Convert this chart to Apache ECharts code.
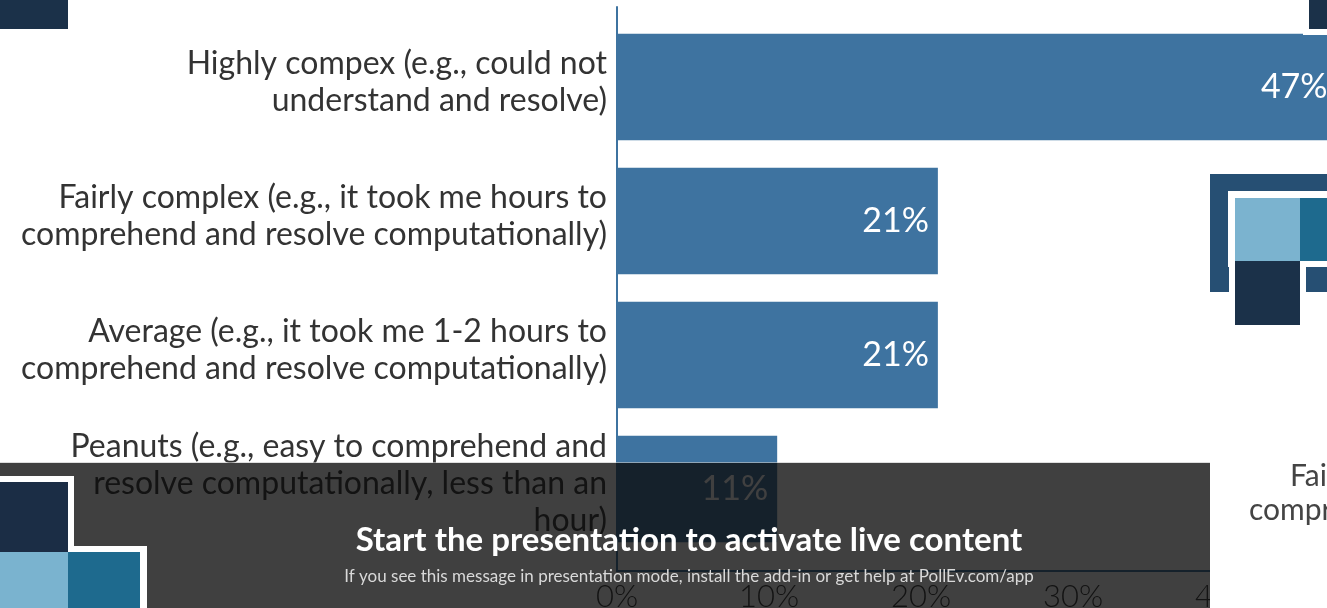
<!DOCTYPE html>
<html>
<head>
<meta charset="utf-8">
<script src="https://cdn.jsdelivr.net/npm/echarts@6/dist/echarts.min.js"></script>
<style>
  html, body { margin: 0; padding: 0; background: #fff; }
  #chart { width: 1327px; height: 608px; }
</style>
</head>
<body>
<div id="chart"></div>
<script>
// Poll results: how complex was the problem?
const categories = [
  'Highly compex (e.g., could not\nunderstand and resolve)',
  'Fairly complex (e.g., it took me hours to\ncomprehend and resolve computationally)',
  'Average (e.g., it took me 1-2 hours to\ncomprehend and resolve computationally)',
  'Peanuts (e.g., easy to comprehend and\nresolve computationally, less than an\nhour)'
];
// share of responses, percent
const shares = [47.4, 21.1, 21.1, 10.5];
const xTickValues = [0, 10, 20, 30, 40, 50];

const overlayTitle = 'Start the presentation to activate live content';
const overlayNote = 'If you see this message in presentation mode, install the add-in or get help at PollEv.com/app';

const BAR = '#3e73a0';
const FONT = 'Lato, "Noto Sans", sans-serif';

const chart = echarts.init(document.getElementById('chart'), null, { renderer: 'canvas' });

const xMin = xTickValues[0];
const xMax = xTickValues[xTickValues.length - 1];

const option = {
  backgroundColor: '#ffffff',
  animation: false,
  grid: [
    // bars
    { left: 618, right: -49, top: 20, height: 536, outerBoundsMode: 'none', containLabel: false },
    // axis frame
    { left: 617, right: -50, top: 7, height: 564, outerBoundsMode: 'none', containLabel: false },
    // category captions, set slightly higher than the bar centres
    { left: 618, right: -49, top: 15, height: 536, outerBoundsMode: 'none', containLabel: false }
  ],
  xAxis: [
    { gridIndex: 0, type: 'value', min: xMin, max: xMax, interval: 10, show: false },
    {
      gridIndex: 1, type: 'value', min: xMin, max: xMax, interval: 10,
      axisLine: { show: true, lineStyle: { color: BAR, width: 2 } },
      axisTick: { show: false },
      splitLine: { show: false },
      axisLabel: {
        color: '#333', fontFamily: FONT, fontSize: 31, fontWeight: 300, margin: 10,
        formatter: v => v + '%'
      }
    },
    { gridIndex: 2, type: 'value', min: xMin, max: xMax, interval: 10, show: false }
  ],
  yAxis: [
    {
      gridIndex: 0, type: 'category', data: categories, inverse: true,
      axisLine: { show: false }, axisTick: { show: false }, splitLine: { show: false },
      axisLabel: { show: false }
    },
    {
      gridIndex: 1, type: 'value', min: 0, max: 1,
      axisLine: { show: true, onZero: false, lineStyle: { color: BAR, width: 2 } },
      axisTick: { show: false }, axisLabel: { show: false }, splitLine: { show: false }
    },
    {
      gridIndex: 2, type: 'category', data: categories, inverse: true,
      axisLine: { show: false }, axisTick: { show: false }, splitLine: { show: false },
      axisLabel: {
        color: '#333', fontFamily: FONT, fontSize: 32, lineHeight: 37, margin: 11, align: 'right'
      }
    }
  ],
  series: [
    {
      type: 'bar',
      xAxisIndex: 0, yAxisIndex: 0,
      data: shares,
      barCategoryGap: '20.5%',
      itemStyle: { color: BAR },
      label: {
        show: true, position: 'insideRight', distance: 9,
        color: '#fff', fontFamily: FONT, fontSize: 34, fontWeight: 'normal',
        formatter: p => Math.round(p.value) + '%'
      }
    }
  ],
  graphic: [
    // dark banner
    { type: 'rect', z: 100, shape: { x: 0, y: 463, width: 1210, height: 145 }, style: { fill: 'rgba(10,10,10,0.78)' } },
    { type: 'rect', z: 101, shape: { x: 0, y: 462, width: 1210, height: 1 }, style: { fill: 'rgba(200,200,200,0.6)' } },
    { type: 'text', z: 102, x: 689, y: 540,
      style: { text: overlayTitle, fill: '#fff', font: 'bold 33px ' + FONT, align: 'center', verticalAlign: 'middle' } },
    { type: 'text', z: 102, x: 689, y: 577,
      style: { text: overlayNote, fill: '#d9d9d9', font: '17px ' + FONT, align: 'center', verticalAlign: 'middle' } },

    // right side panel
    { type: 'rect', z: 110, shape: { x: 1210, y: 148, width: 117, height: 460 }, style: { fill: '#fff' } },
    { type: 'text', z: 111, x: 1290, y: 476,
      style: { text: 'Fairly complex', fill: '#444', font: '30px ' + FONT, align: 'left', verticalAlign: 'middle' } },
    { type: 'text', z: 111, x: 1249, y: 510,
      style: { text: 'comprehend and', fill: '#444', font: '30px ' + FONT, align: 'left', verticalAlign: 'middle' } },

    // decorative tiles, right frame
    { type: 'rect', z: 112, shape: { x: 1210, y: 174, width: 117, height: 118 }, style: { fill: '#264f73' } },
    { type: 'rect', z: 113, shape: { x: 1228, y: 191, width: 99, height: 76 }, style: { fill: '#fff' } },
    { type: 'rect', z: 113, shape: { x: 1229, y: 255, width: 77, height: 76 }, style: { fill: '#fff' } },
    { type: 'rect', z: 114, shape: { x: 1235, y: 198, width: 65, height: 63 }, style: { fill: '#7bb3cf' } },
    { type: 'rect', z: 114, shape: { x: 1300, y: 198, width: 27, height: 63 }, style: { fill: '#1e6a8e' } },
    { type: 'rect', z: 114, shape: { x: 1235, y: 261, width: 65, height: 64 }, style: { fill: '#1b3149' } },

    // decorative tiles, corners
    { type: 'rect', z: 112, shape: { x: 0, y: 0, width: 68, height: 29 }, style: { fill: '#1b3149' } },
    { type: 'rect', z: 112, shape: { x: 1303, y: 0, width: 24, height: 35 }, style: { fill: '#fff' } },
    { type: 'rect', z: 113, shape: { x: 1309, y: 0, width: 18, height: 29 }, style: { fill: '#1b3149' } },

    { type: 'rect', z: 112, shape: { x: 0, y: 476, width: 74, height: 132 }, style: { fill: '#fff' } },
    { type: 'rect', z: 112, shape: { x: 62, y: 546, width: 85, height: 62 }, style: { fill: '#fff' } },
    { type: 'rect', z: 113, shape: { x: 0, y: 482, width: 68, height: 70 }, style: { fill: '#1b2d45' } },
    { type: 'rect', z: 113, shape: { x: 0, y: 552, width: 68, height: 56 }, style: { fill: '#7ab3cf' } },
    { type: 'rect', z: 113, shape: { x: 68, y: 552, width: 72, height: 56 }, style: { fill: '#1e6a8e' } }
  ]
};

chart.setOption(option);
</script>
</body>
</html>
